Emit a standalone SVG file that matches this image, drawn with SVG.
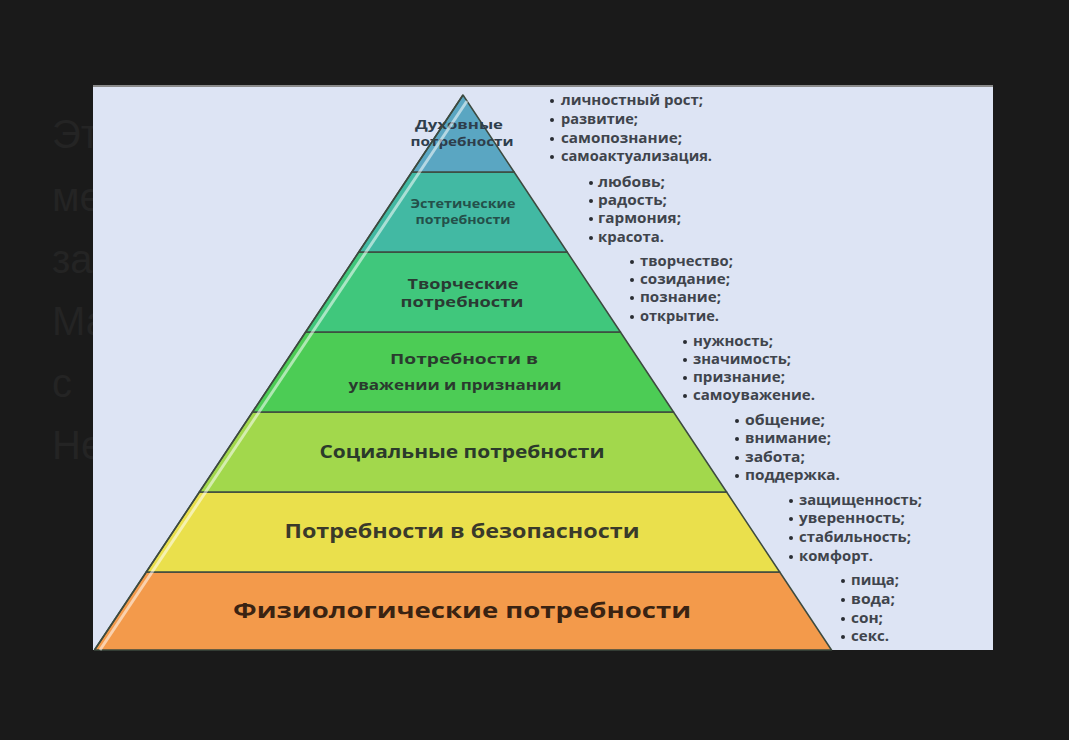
<svg xmlns="http://www.w3.org/2000/svg" width="1069" height="740" viewBox="0 0 1069 740">
<style>
.bg-txt{font-family:"Liberation Sans",Arial,sans-serif;font-size:40px;fill:#242424}
.lvl{stroke:#3d4a3f;stroke-width:1.5;stroke-linejoin:round}
.lbl{font-family:"Open Sans","Liberation Sans",sans-serif;font-weight:bold;text-anchor:middle}
.li{font-family:"Open Sans","Liberation Sans",sans-serif;font-weight:bold;font-size:13.5px;fill:#40444c}
.dot{fill:#2a2d33}
</style>
<rect x="0" y="0" width="1069" height="740" fill="#1a1a1a"/>
<g id="background-text">
<text class="bg-txt" x="52" y="148">Эт</text>
<text class="bg-txt" x="52" y="211">ме</text>
<text class="bg-txt" x="52" y="273">за</text>
<text class="bg-txt" x="52" y="335">Ма</text>
<text class="bg-txt" x="52" y="397">с</text>
<text class="bg-txt" x="52" y="459">Не</text>
</g>
<g id="panel">
<rect x="93" y="85" width="900" height="565" fill="#dde4f4"/>
<line x1="93" y1="86" x2="993" y2="86" stroke="#8a8a8a" stroke-width="2"/>
</g>
<g id="level-7">
<polygon class="lvl" points="146.3,572 779.7,572 831.5,650 94.5,650" fill="#f39a4b"/>
<text class="lbl" x="462" y="618" font-size="22" fill="#3a2312" textLength="458" lengthAdjust="spacingAndGlyphs">Физиологические потребности</text>
</g>
<g id="level-6">
<polygon class="lvl" points="199.4,492 726.6,492 779.7,572 146.3,572" fill="#eae04c"/>
<text class="lbl" x="462" y="538" font-size="19" fill="#3a3a2a" textLength="355" lengthAdjust="spacingAndGlyphs">Потребности в безопасности</text>
</g>
<g id="level-5">
<polygon class="lvl" points="252.5,412 673.5,412 726.6,492 199.4,492" fill="#a2d84c"/>
<text class="lbl" x="462" y="458" font-size="18" fill="#2b3a2b" textLength="285" lengthAdjust="spacingAndGlyphs">Социальные потребности</text>
</g>
<g id="level-4">
<polygon class="lvl" points="305.6,332 620.4,332 673.5,412 252.5,412" fill="#4ccc55"/>
<text class="lbl" x="464" y="364" font-size="15" fill="#2a3a2e" textLength="148" lengthAdjust="spacingAndGlyphs">Потребности в</text>
<text class="lbl" x="455" y="390" font-size="15" fill="#2a3a2e" textLength="213" lengthAdjust="spacingAndGlyphs">уважении и признании</text>
</g>
<g id="level-3">
<polygon class="lvl" points="358.8,252 567.2,252 620.4,332 305.6,332" fill="#40c77c"/>
<text class="lbl" x="463" y="289" font-size="14" fill="#2a3a33" textLength="111" lengthAdjust="spacingAndGlyphs">Творческие</text>
<text class="lbl" x="462" y="307" font-size="14" fill="#2a3a33" textLength="123" lengthAdjust="spacingAndGlyphs">потребности</text>
</g>
<g id="level-2">
<polygon class="lvl" points="411.9,172 514.1,172 567.2,252 358.8,252" fill="#42b9a3"/>
<text class="lbl" x="463" y="208" font-size="12" fill="#24504a" textLength="105" lengthAdjust="spacingAndGlyphs">Эстетические</text>
<text class="lbl" x="463" y="224" font-size="12" fill="#24504a" textLength="95" lengthAdjust="spacingAndGlyphs">потребности</text>
</g>
<g id="level-1">
<polygon class="lvl" points="463,95 514.1,172 411.9,172" fill="#5aa6c2"/>
<text class="lbl" x="459" y="129" font-size="12" fill="#2e3e4c" textLength="88" lengthAdjust="spacingAndGlyphs">Духовные</text>
<text class="lbl" x="462" y="146" font-size="12" fill="#2e3e4c" textLength="103" lengthAdjust="spacingAndGlyphs">потребности</text>
</g>
<g id="highlight">
<line x1="467" y1="101" x2="100" y2="650" stroke="#ffffff" stroke-opacity="0.55" stroke-width="3"/>
<line x1="463" y1="95" x2="94.5" y2="650" stroke="#3d4a3f" stroke-width="1.5"/>
</g>
<g id="list-1">
<circle class="dot" cx="552" cy="101" r="2"/><text class="li" x="561" y="105" textLength="142" lengthAdjust="spacingAndGlyphs">личностный рост;</text>
<circle class="dot" cx="552" cy="120" r="2"/><text class="li" x="561" y="124" textLength="77" lengthAdjust="spacingAndGlyphs">развитие;</text>
<circle class="dot" cx="552" cy="139" r="2"/><text class="li" x="561" y="143" textLength="121" lengthAdjust="spacingAndGlyphs">самопознание;</text>
<circle class="dot" cx="552" cy="157" r="2"/><text class="li" x="561" y="161" textLength="151" lengthAdjust="spacingAndGlyphs">самоактуализация.</text>
</g>
<g id="list-2">
<circle class="dot" cx="591" cy="183" r="2"/><text class="li" x="598" y="187" textLength="67" lengthAdjust="spacingAndGlyphs">любовь;</text>
<circle class="dot" cx="591" cy="201" r="2"/><text class="li" x="598" y="205" textLength="69" lengthAdjust="spacingAndGlyphs">радость;</text>
<circle class="dot" cx="591" cy="219" r="2"/><text class="li" x="598" y="223" textLength="83" lengthAdjust="spacingAndGlyphs">гармония;</text>
<circle class="dot" cx="591" cy="238" r="2"/><text class="li" x="598" y="242" textLength="66" lengthAdjust="spacingAndGlyphs">красота.</text>
</g>
<g id="list-3">
<circle class="dot" cx="632" cy="262" r="2"/><text class="li" x="640" y="266" textLength="93" lengthAdjust="spacingAndGlyphs">творчество;</text>
<circle class="dot" cx="632" cy="280" r="2"/><text class="li" x="640" y="284" textLength="90" lengthAdjust="spacingAndGlyphs">созидание;</text>
<circle class="dot" cx="632" cy="298" r="2"/><text class="li" x="640" y="302" textLength="81" lengthAdjust="spacingAndGlyphs">познание;</text>
<circle class="dot" cx="632" cy="317" r="2"/><text class="li" x="640" y="321" textLength="79" lengthAdjust="spacingAndGlyphs">открытие.</text>
</g>
<g id="list-4">
<circle class="dot" cx="685" cy="342" r="2"/><text class="li" x="693" y="346" textLength="80" lengthAdjust="spacingAndGlyphs">нужность;</text>
<circle class="dot" cx="685" cy="360" r="2"/><text class="li" x="693" y="364" textLength="98" lengthAdjust="spacingAndGlyphs">значимость;</text>
<circle class="dot" cx="685" cy="378" r="2"/><text class="li" x="693" y="382" textLength="92" lengthAdjust="spacingAndGlyphs">признание;</text>
<circle class="dot" cx="685" cy="396" r="2"/><text class="li" x="693" y="400" textLength="122" lengthAdjust="spacingAndGlyphs">самоуважение.</text>
</g>
<g id="list-5">
<circle class="dot" cx="737" cy="421" r="2"/><text class="li" x="745" y="425" textLength="80" lengthAdjust="spacingAndGlyphs">общение;</text>
<circle class="dot" cx="737" cy="439" r="2"/><text class="li" x="745" y="443" textLength="86" lengthAdjust="spacingAndGlyphs">внимание;</text>
<circle class="dot" cx="737" cy="458" r="2"/><text class="li" x="745" y="462" textLength="60" lengthAdjust="spacingAndGlyphs">забота;</text>
<circle class="dot" cx="737" cy="476" r="2"/><text class="li" x="745" y="480" textLength="95" lengthAdjust="spacingAndGlyphs">поддержка.</text>
</g>
<g id="list-6">
<circle class="dot" cx="791" cy="501" r="2"/><text class="li" x="799" y="505" textLength="123" lengthAdjust="spacingAndGlyphs">защищенность;</text>
<circle class="dot" cx="791" cy="519" r="2"/><text class="li" x="799" y="523" textLength="106" lengthAdjust="spacingAndGlyphs">уверенность;</text>
<circle class="dot" cx="791" cy="538" r="2"/><text class="li" x="799" y="542" textLength="112" lengthAdjust="spacingAndGlyphs">стабильность;</text>
<circle class="dot" cx="791" cy="557" r="2"/><text class="li" x="799" y="561" textLength="74" lengthAdjust="spacingAndGlyphs">комфорт.</text>
</g>
<g id="list-7">
<circle class="dot" cx="843" cy="581" r="2"/><text class="li" x="851" y="585" textLength="48" lengthAdjust="spacingAndGlyphs">пища;</text>
<circle class="dot" cx="843" cy="600" r="2"/><text class="li" x="851" y="604" textLength="44" lengthAdjust="spacingAndGlyphs">вода;</text>
<circle class="dot" cx="843" cy="619" r="2"/><text class="li" x="851" y="623" textLength="32" lengthAdjust="spacingAndGlyphs">сон;</text>
<circle class="dot" cx="843" cy="637" r="2"/><text class="li" x="851" y="641" textLength="38" lengthAdjust="spacingAndGlyphs">секс.</text>
</g>
</svg>
